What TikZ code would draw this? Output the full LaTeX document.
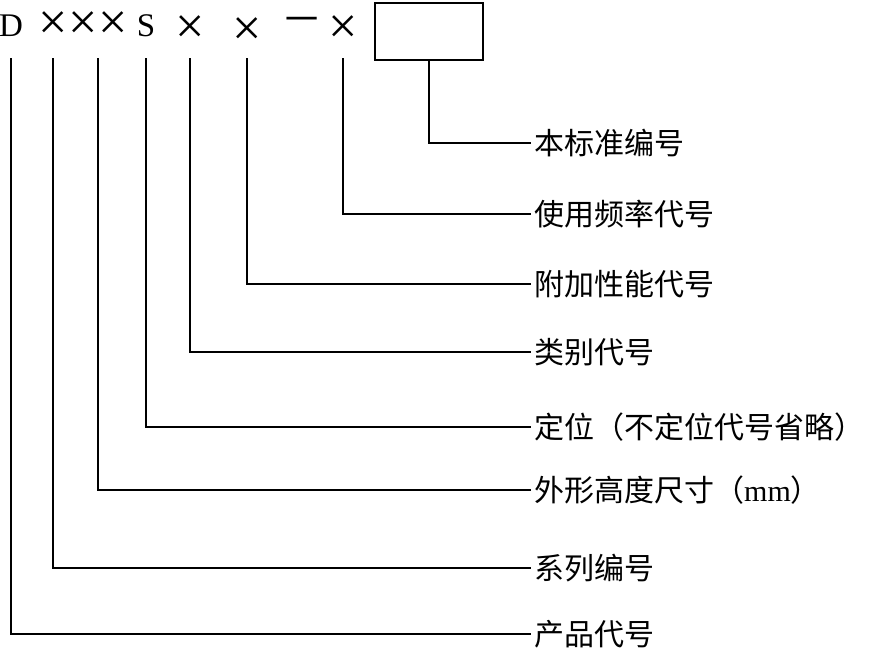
\documentclass[tikz,border=0pt]{standalone}
\usepackage{fontspec}
\setmainfont{Liberation Serif}
\newfontfamily\cjk{Noto Sans CJK SC}
\usetikzlibrary{positioning,calc}
\tikzset{
  sym/.style     ={inner sep=0pt,font=\fontsize{33}{33}\selectfont},
  cross/.style   ={sym,font=\fontsize{52}{52}\selectfont},
  codebox/.style ={draw,line width=2.8pt,minimum width=108pt,minimum height=57pt,inner sep=0pt},
  lbl/.style     ={anchor=west,inner xsep=3pt,inner ysep=0pt,font=\cjk\fontsize{30}{30}\selectfont},
  lead/.style    ={line width=1.8pt},
}

\begin{document}
\begin{tikzpicture}[x=1pt,y=-1pt]
\useasboundingbox (0,0) rectangle (872,649);
\coordinate (top) at (0,58);

% code line
\node[sym]   (pD)    at (11,26)  {D};
\node[cross] (pX1)   at (53,26)  {×};
\node[cross] (pX2)   at (83,26)  {×};
\node[cross] (pX3)   at (113,26) {×};
\node[sym]   (pS)    at (146,26) {S};
\node[cross] (pX4)   at (190,30) {×};
\node[cross] (pX5)   at (247,32) {×};
\node[sym]   (pDash) at (302,24) {\cjk 一};
\node[cross] (pX6)   at (343,30) {×};
\node[codebox] (pBox) at (429,31.5) {};
\coordinate (pDim) at ($(pX2)!0.5!(pX3)$);

% labels
\foreach \n/\y/\t in {lStd/142.7/本标准编号, lFreq/214/使用频率代号, lAdd/284/附加性能代号,
    lCat/352/类别代号, lPos/427/定位（不定位代号省略）, lDim/490/{外形高度尺寸（{\rmfamily mm}）},
    lSer/568/系列编号, lProd/634/产品代号}
  \node[lbl] (\n) at (531,\y) {\t};

% leaders
\draw[lead] (pBox.south) |- (lStd.west);
\foreach \s/\l in {pX6/lFreq, pX5/lAdd, pX4/lCat, pS/lPos, pDim/lDim, pX1/lSer, pD/lProd}
  \draw[lead] (\s |- top) |- (\l.west);
\end{tikzpicture}
\end{document}
